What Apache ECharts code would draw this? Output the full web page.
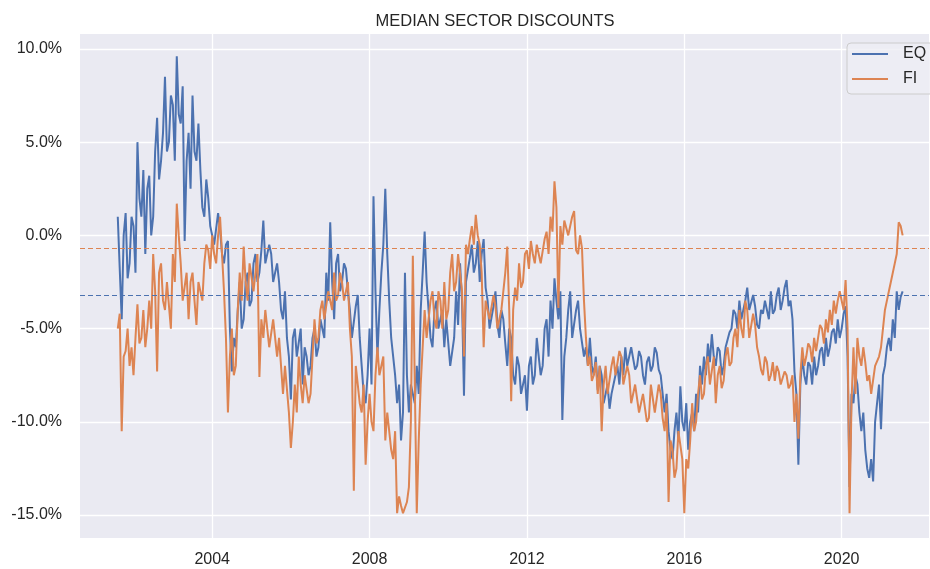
<!DOCTYPE html>
<html>
<head>
<meta charset="utf-8">
<title>Median sector discounts</title>
<script src="https://cdn.jsdelivr.net/npm/echarts@6/dist/echarts.min.js"></script>
<style>
  html, body { margin: 0; padding: 0; background: #fff; }
  #chart { width: 930px; height: 569px; }
</style>
</head>
<body>
<div id="chart"></div>
<script>
// readings every 0.05 year (top / bottom of the noisy band), starting mid 2001
const startYear = 2001.6;
const stepYears = 0.05;

// EQ median discount (%)
const eqValues = [
  // 2001.6 - 2004.0
  1.0,-1.8, -4.5,0.0, 1.2,-2.3, -1.5,1.0, 0.5,-2.0, 5.0,2.0, 1.0,3.5, -1.0,2.5, 3.2,0.0, 1.0,4.5,
  6.3,3.0, 4.0,5.5, 8.5,4.5, 5.0,7.5, 7.0,4.0, 9.6,6.5, 6.0,8.0, -0.3,4.0, 5.5,2.5, 7.5,4.5,
  4.0,6.0, 3.5,1.5, 1.0,3.0, 2.0,0.5, 0.5,-0.5,
  // 2004.1 - 2007.0
  -0.5,1.2, 0.3,-1.0, -1.5,-0.5, -0.3,-5.0, -7.3,-5.5, -6.0,-4.0, -2.5,-5.0, -4.5,-2.5, -2.0,-3.8, -3.5,-1.5,
  -1.0,-2.5, -2.0,-0.8, 0.8,-1.5, -1.5,-0.5, -1.0,-2.5, -2.0,-1.5, -2.5,-4.0, -4.5,-3.0, -5.5,-6.5, -8.8,-5.5,
  -5.0,-6.5, -6.5,-5.0, -8.0,-6.0, -6.5,-7.5, -7.0,-5.5, -5.0,-6.5, -6.0,-4.5, -4.5,-5.5, -2.0,-3.5, 0.7,-2.5,
  // 2007.1 - 2009.8
  -4.5,-1.5, -1.0,-3.0, -2.5,-1.5, -1.8,-3.0, -4.0,-5.5, -5.5,-3.8, -3.2,-5.5, -7.0,-8.5, -9.0,-7.5, -5.0,-8.0,
  2.1,-3.0, -6.5,-4.0, -2.0,-0.5, 2.5,-1.0, -3.5,-5.5, -5.5,-7.5, -9.0,-8.0, -11.0,-9.5, -2.0,-7.5, -9.5,-8.0,
  -8.0,-9.0, -7.0,-8.5, -4.0,-2.0, 0.2,-2.5, -4.0,-5.5, -6.0,-4.0, -3.5,-5.0, -5.0,-4.0,
  // 2009.9 - 2012.5
  -6.0,-4.5, -4.5,-7.0,
  -7.0,-5.5, -3.0,-4.8, -1.5,-3.5, -8.6,-2.5, -2.5,-1.2, -0.5,-2.0, -1.5,-0.3, -2.5,-1.0, -0.2,-2.8, -3.5,-5.0,
  -5.0,-3.8, -3.0,-4.8, -5.5,-4.0, -4.5,-5.8, -7.0,-5.0, -5.5,-7.5, -8.0,-6.5, -7.0,-8.5, -8.5,-7.5, -9.4,-7.0,
  -6.5,-8.0, -7.5,-5.5, -5.5,-7.5, -7.0,-5.0, -4.5,-6.5,
  // 2012.6 - 2015.3
  -3.5,-5.0, -2.3,-3.5, -4.5,-3.0, -9.9,-6.5, -5.5,-4.0,
  -3.0,-5.5, -5.5,-4.0, -3.5,-5.0, -5.0,-6.5, -6.0,-7.0, -5.5,-7.0, -7.5,-6.5, -8.3,-7.0, -7.5,-9.0, -9.0,-8.0,
  -9.3,-8.5, -8.5,-7.5, -7.0,-8.0, -6.5,-7.5, -6.0,-7.0, -7.0,-6.0, -6.0,-7.2, -7.0,-6.2, -6.5,-7.5, -8.0,-6.8,
  -6.5,-7.3, -7.0,-6.0, -6.3,-7.2,
  // 2015.4 - 2018.1
  -7.5,-8.5, -9.5,-8.5, -10.5,-11.5, -12.0,-10.5, -9.5,-11.0, -8.1,-10.0, -10.5,-9.0,
  -11.5,-10.0, -9.5,-10.5, -8.5,-9.5, -7.0,-8.0, -6.5,-7.5, -5.8,-6.8, -5.3,-6.5, -7.0,-6.0, -6.2,-7.5, -7.0,-6.0,
  -6.0,-5.2, -5.0,-4.0, -4.2,-5.0, -3.5,-4.5, -4.5,-3.5, -2.8,-4.0, -4.0,-3.2, -3.8,-4.8, -5.0,-4.0, -4.2,-3.5,
  -3.5,-4.5,
  // 2018.2 - 2021.5
  -3.0,-4.2, -4.0,-3.2, -2.8,-4.0, -3.5,-2.8, -2.4,-3.8, -3.5,-4.5, -7.3,-8.5, -12.3,-8.0, -6.5,-7.5,
  -8.0,-6.8, -7.0,-8.0, -6.5,-7.5, -7.0,-6.2, -6.0,-7.0, -5.5,-6.5, -6.0,-5.2, -5.0,-5.8, -4.5,-5.5, -5.0,-4.2,
  -3.8,-6.5, -13.5,-8.5, -9.0,-7.5, -8.0,-9.5, -10.5,-9.5, -11.5,-12.5, -13.0,-12.0, -13.2,-10.0, -9.0,-8.0, -10.4,-7.5,
  -7.0,-6.0, -5.5,-6.2, -4.5,-5.5, -3.0,-4.0, -3.3,-3.0
];

// FI median discount (%)
const fiValues = [
  // 2001.6 - 2004.0
  -5.0,-4.2, -10.5,-6.5, -6.2,-5.0, -7.0,-6.0, -7.5,-5.5, -3.7,-5.8, -5.5,-4.0, -6.0,-5.0, -3.5,-5.0, -1.0,-3.0,
  -7.3,-2.0, -1.5,-3.5, -4.0,-2.5, -2.5,-5.0, -1.0,-2.5, 1.7,0.0, -1.5,-3.5, -3.5,-2.0, -4.5,-2.5, -2.0,-3.5,
  -4.8,-2.5, -2.5,-3.5, -1.5,-0.5, -0.8,-1.8, 0.0,-1.0,
  // 2004.1 - 2007.0
  -1.5,0.0, 1.0,-1.0, -3.0,-5.5, -9.5,-6.5, -5.0,-7.5, -7.0,-4.0, -2.0,-3.5, -0.6,-2.5, -3.5,-1.5, -1.5,-3.0,
  -3.0,-1.0, -7.6,-4.5, -5.5,-4.0, -4.0,-6.0, -6.0,-4.5, -4.5,-6.5, -5.5,-7.0, -8.5,-7.0, -7.0,-9.5, -11.4,-10.0,
  -8.0,-9.5, -6.5,-8.0, -9.0,-7.5, -7.5,-9.0, -8.5,-6.5, -4.5,-5.8, -5.5,-4.0, -3.5,-4.5, -4.5,-3.0, -3.0,-4.0,
  // 2007.1 - 2009.8
  -2.0,-3.5, -3.2,-2.0, -2.5,-3.5, -3.5,-2.5, -5.0,-6.5, -13.7,-7.0, -7.0,-9.0, -9.5,-8.0, -12.3,-10.0, -8.5,-10.0,
  -10.5,-7.5, -6.0,-7.5, -7.5,-6.5, -11.0,-9.5, -9.5,-11.5, -12.0,-10.5, -14.9,-14.0, -14.5,-14.9, -14.9,-14.3, -13.5,-10.0,
  -1.1,-8.0, -14.9,-11.0, -8.0,-6.0, -4.0,-5.5, -5.5,-3.5, -3.0,-4.5, -5.0,-3.0, -3.5,-5.0,
  // 2009.9 - 2012.5
  -2.5,-4.5, -4.0,-2.0,
  -1.0,-3.0, -2.5,-1.0, -1.0,-3.0, -6.5,-0.5, -1.0,-0.2, 0.5,-0.5, 1.1,0.0, -0.5,-2.0, -6.0,-3.5, -3.5,-4.5,
  -4.5,-3.2, -3.8,-5.0, -4.5,-4.0, -3.0,-2.0, -0.6,-4.0, -8.9,-4.0, -2.8,-3.5, -1.5,-2.8, -2.5,-1.0, -0.8,-1.8,
  -0.3,-1.0, -1.5,-0.5, -0.5,-1.5, -1.5,-0.2, 0.2,-1.0,
  // 2012.6 - 2015.3
  1.0,0.2, 2.9,1.5, -3.9,0.5, -0.5,0.8, 0.8,0.0,
  0.0,1.0, 1.3,-0.8, -1.0,0.0, -0.7,-3.5, -5.5,-7.0, -6.5,-7.8, -7.5,-6.8, -8.5,-7.0, -10.5,-8.0, -7.0,-8.5,
  -8.5,-7.0, -6.5,-7.5, -7.5,-6.2, -6.5,-8.0, -8.0,-7.0, -7.5,-9.0, -9.0,-8.0, -8.0,-9.5, -9.5,-8.5, -8.5,-10.0,
  -9.8,-8.0, -8.0,-9.5, -9.5,-8.0,
  // 2015.4 - 2018.1
  -8.5,-9.8, -10.5,-9.0, -14.3,-11.0, -11.5,-13.0, -12.5,-10.5, -10.5,-12.0, -14.9,-12.0,
  -12.5,-11.0, -9.0,-10.5, -10.0,-8.5, -7.5,-8.8, -8.5,-7.0, -6.5,-8.0, -8.0,-6.5, -9.0,-7.5, -7.0,-8.2, -7.8,-6.5,
  -6.0,-7.0, -6.8,-5.5, -5.0,-6.0, -4.0,-5.0, -5.5,-3.5, -4.0,-5.5, -5.5,-4.2, -4.8,-6.0, -6.5,-7.2, -7.5,-6.5,
  -6.8,-7.8,
  // 2018.2 - 2021.5
  -7.5,-6.8, -7.8,-7.0, -7.3,-8.0, -8.0,-7.3, -7.5,-8.2, -8.0,-7.5, -10.0,-8.5, -10.9,-7.5, -6.0,-7.0,
  -6.5,-5.8, -6.0,-6.8, -5.5,-6.2, -5.5,-4.8, -5.0,-5.8, -4.5,-5.2, -4.0,-4.8, -3.5,-4.2, -3.5,-3.0, -3.0,-4.0,
  -2.4,-5.0, -14.9,-9.0, -6.0,-8.5, -5.5,-6.5, -7.0,-6.0, -6.8,-7.8, -7.5,-8.5, -8.5,-7.0, -7.0,-6.5, -6.0,-5.0,
  -4.0,-3.5, -3.0,-2.5, -2.5,-1.5, -1.0,0.7, 0.5,0.0
];

// overall medians (dashed lines)
const eqMedian = -3.2;
const fiMedian = -0.7;

const yearTicks = [2004, 2008, 2012, 2016, 2020];
const pctTicks = [-15, -10, -5, 0, 5, 10];

const toPoints = values => values.map((v, i) => [+(startYear + i * stepYears).toFixed(2), v]);

const chart = echarts.init(document.getElementById('chart'));

chart.setOption({
  animation: false,
  textStyle: { fontFamily: 'Liberation Sans, Arial, sans-serif' },
  title: {
    text: 'MEDIAN SECTOR DISCOUNTS',
    left: 490,
    top: 8,
    textAlign: 'center',
    textStyle: { fontSize: 16.5, fontWeight: 'normal', color: '#262626' }
  },
  legend: {
    data: ['EQ', 'FI'],
    orient: 'vertical',
    left: 847,
    top: 43,
    icon: 'rect',
    itemWidth: 36,
    itemHeight: 2,
    itemGap: 9,
    padding: [3, 10, 7, 5],
    backgroundColor: 'rgba(238,238,244,0.8)',
    borderColor: '#cccccc',
    borderWidth: 1,
    borderRadius: 4,
    textStyle: { fontSize: 16, color: '#262626', padding: [0, 0, 0, 10] }
  },
  grid: {
    left: 80, right: 1, top: 34, bottom: 31,
    show: true,
    backgroundColor: '#EAEAF2',
    borderWidth: 0
  },
  xAxis: {
    type: 'value',
    min: 2000.64,
    max: 2022.22,
    axisLine: { show: false },
    axisTick: { show: false, customValues: yearTicks },
    axisLabel: {
      customValues: yearTicks,
      fontSize: 16,
      color: '#262626',
      margin: 14,
      formatter: v => String(v)
    },
    splitLine: { show: true, lineStyle: { color: '#ffffff', width: 1.3 } }
  },
  yAxis: {
    type: 'value',
    min: -16.23,
    max: 10.8,
    axisLine: { show: false },
    axisTick: { show: false, customValues: pctTicks },
    axisLabel: {
      customValues: pctTicks,
      fontSize: 16,
      color: '#262626',
      margin: 18,
      formatter: v => v.toFixed(1) + '%'
    },
    splitLine: { show: true, lineStyle: { color: '#ffffff', width: 1.3 } }
  },
  series: [
    {
      name: 'EQ',
      type: 'line',
      data: toPoints(eqValues),
      symbol: 'none',
      color: '#4C72B0',
      lineStyle: { width: 2 },
      markLine: {
        silent: true,
        symbol: 'none',
        label: { show: false },
        lineStyle: { color: '#4C72B0', width: 1, type: [5, 3] },
        data: [{ yAxis: eqMedian }]
      }
    },
    {
      name: 'FI',
      type: 'line',
      data: toPoints(fiValues),
      symbol: 'none',
      color: '#DD8452',
      lineStyle: { width: 2 },
      markLine: {
        silent: true,
        symbol: 'none',
        label: { show: false },
        lineStyle: { color: '#DD8452', width: 1, type: [5, 3] },
        data: [{ yAxis: fiMedian }]
      }
    }
  ]
});
</script>
</body>
</html>
